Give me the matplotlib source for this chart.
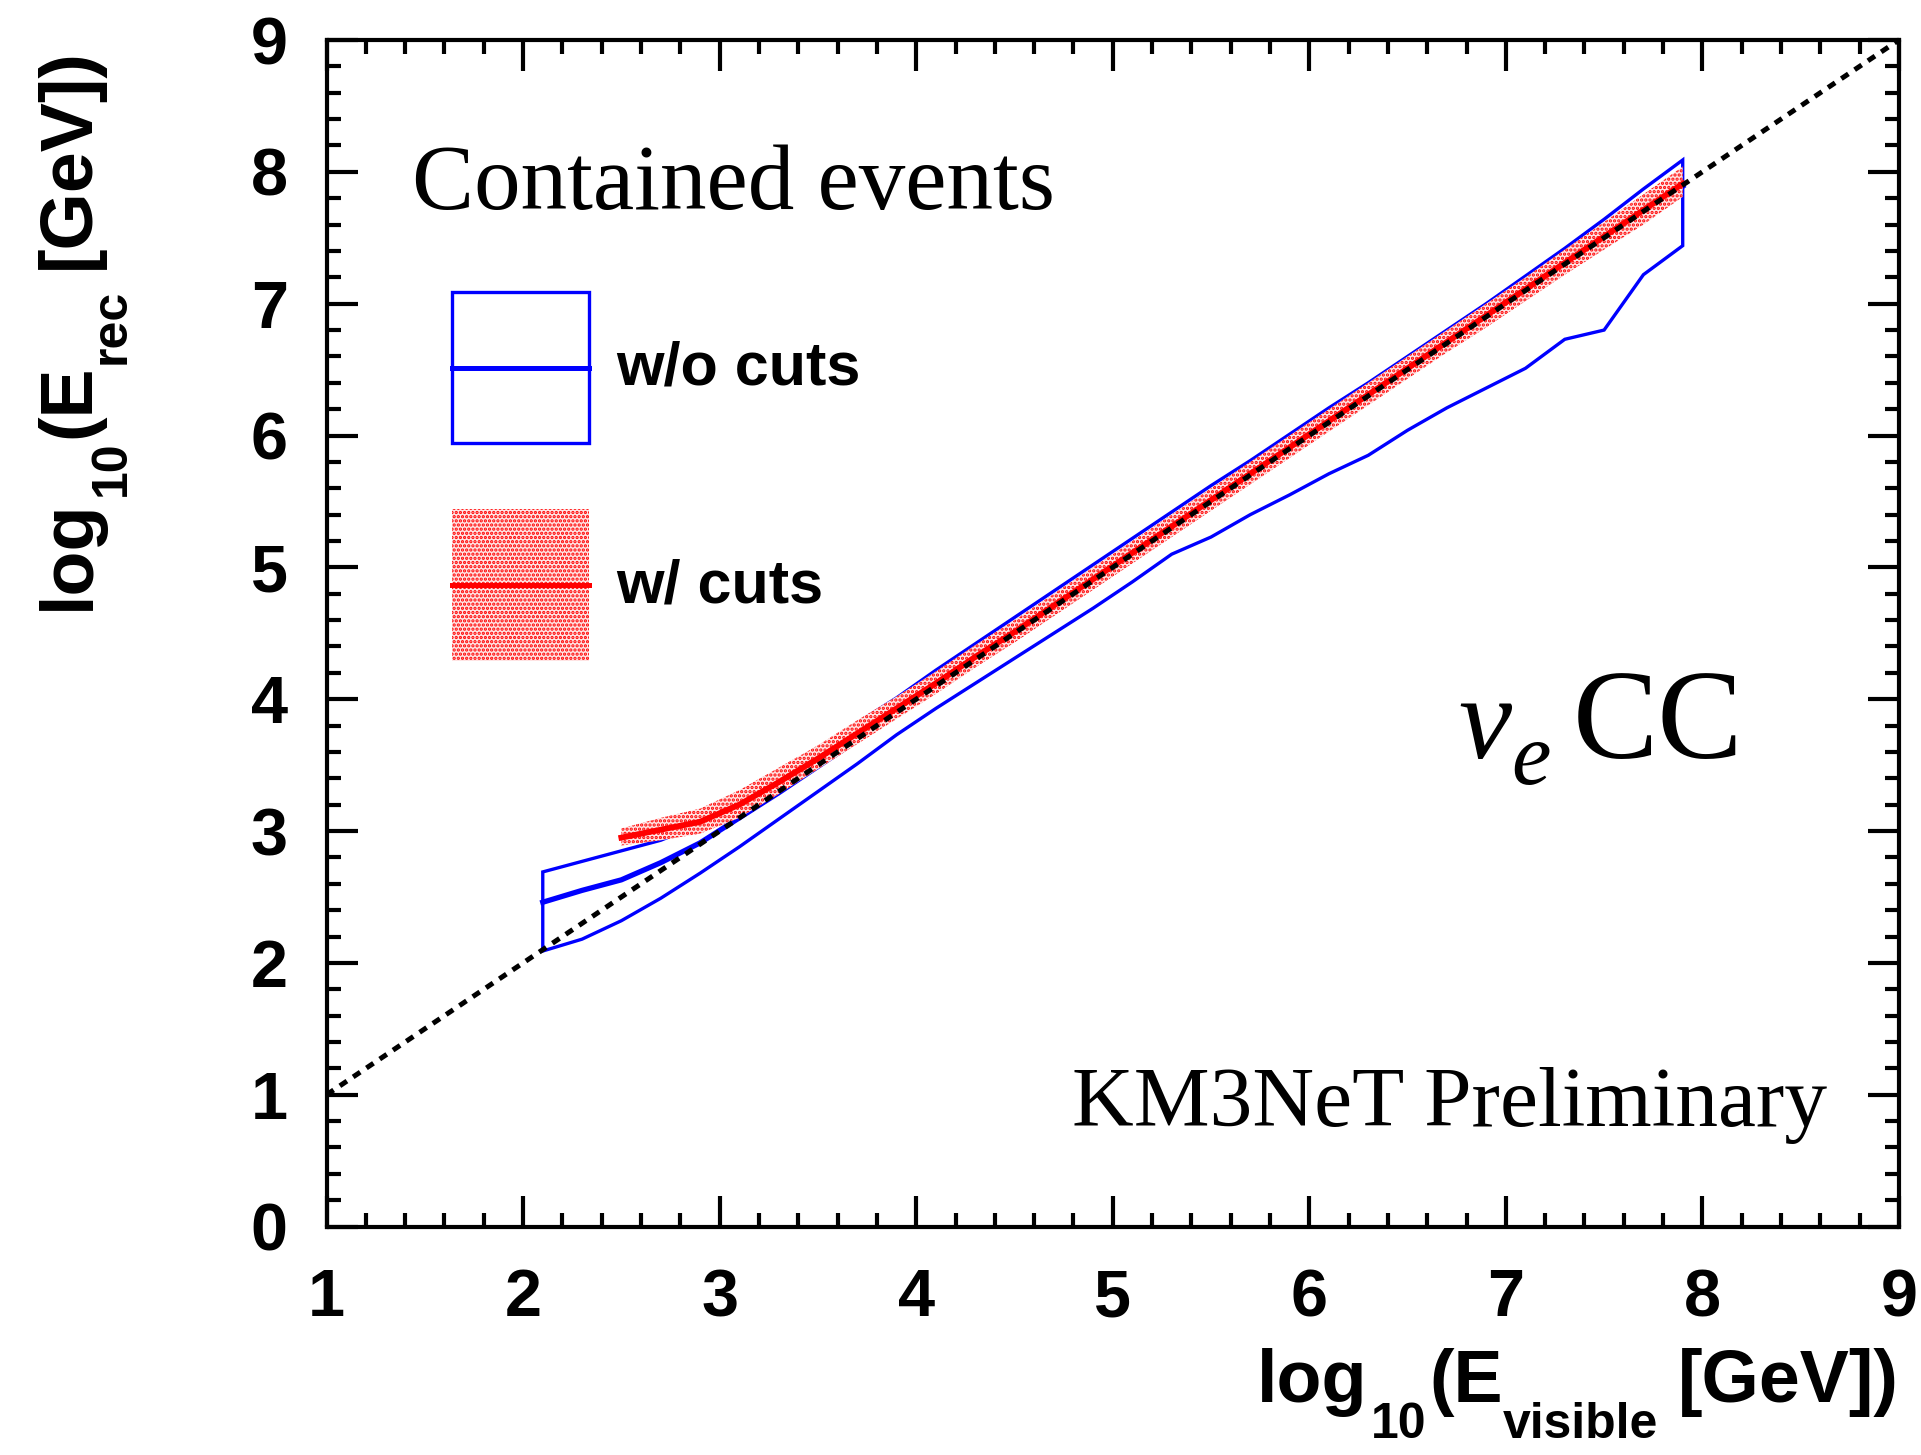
import matplotlib
matplotlib.use("Agg")
import matplotlib.pyplot as plt
from matplotlib.patches import Patch, Rectangle
from matplotlib.lines import Line2D
from matplotlib.legend_handler import HandlerBase
from matplotlib.ticker import AutoMinorLocator

# ---- reconstructed energy vs visible energy, nu_e CC contained events ----
# bin centres of log10(E_visible / GeV)
e_vis = [2.1, 2.3, 2.5, 2.7, 2.9, 3.1, 3.3, 3.5, 3.7, 3.9,
         4.1, 4.3, 4.5, 4.7, 4.9, 5.1, 5.3, 5.5, 5.7, 5.9,
         6.1, 6.3, 6.5, 6.7, 6.9, 7.1, 7.3, 7.5, 7.7, 7.9]

# without cuts: median and band edges of log10(E_rec / GeV)
nocut_median = [2.46, 2.55, 2.63, 2.76, 2.91, 3.10, 3.29, 3.49, 3.69, 3.89,
                4.09, 4.29, 4.49, 4.69, 4.89, 5.09, 5.29, 5.49, 5.69, 5.89,
                6.09, 6.29, 6.49, 6.69, 6.89, 7.09, 7.29, 7.49, 7.69, 7.89]
nocut_upper = [2.69, 2.77, 2.85, 2.93, 3.05, 3.24, 3.43, 3.62, 3.82, 4.01,
               4.22, 4.42, 4.62, 4.82, 5.02, 5.22, 5.42, 5.62, 5.81, 6.01,
               6.21, 6.40, 6.60, 6.80, 7.00, 7.21, 7.42, 7.64, 7.87, 8.09]
nocut_lower = [2.09, 2.18, 2.32, 2.49, 2.68, 2.88, 3.09, 3.30, 3.51, 3.73,
               3.93, 4.12, 4.31, 4.50, 4.69, 4.89, 5.10, 5.23, 5.40, 5.55,
               5.71, 5.85, 6.04, 6.21, 6.36, 6.51, 6.73, 6.80, 7.22, 7.44]

# with cuts
e_vis_cut = [2.5, 2.7, 2.9, 3.1, 3.3, 3.5, 3.7, 3.9,
             4.1, 4.3, 4.5, 4.7, 4.9, 5.1, 5.3, 5.5, 5.7, 5.9,
             6.1, 6.3, 6.5, 6.7, 6.9, 7.1, 7.3, 7.5, 7.7, 7.9]
cut_median = [2.95, 3.01, 3.07, 3.20, 3.37, 3.55, 3.74, 3.93,
              4.12, 4.32, 4.51, 4.71, 4.91, 5.11, 5.31, 5.51, 5.71, 5.91,
              6.11, 6.31, 6.51, 6.71, 6.91, 7.11, 7.31, 7.51, 7.71, 7.91]
cut_upper = [3.02, 3.10, 3.17, 3.31, 3.48, 3.65, 3.84, 4.02,
             4.21, 4.41, 4.60, 4.80, 5.00, 5.20, 5.40, 5.60, 5.80, 6.00,
             6.20, 6.40, 6.60, 6.80, 7.00, 7.20, 7.41, 7.62, 7.83, 8.04]
cut_lower = [2.89, 2.93, 2.98, 3.10, 3.28, 3.47, 3.66, 3.85,
             4.04, 4.24, 4.43, 4.63, 4.83, 5.03, 5.23, 5.43, 5.63, 5.83,
             6.03, 6.23, 6.43, 6.63, 6.82, 7.02, 7.22, 7.41, 7.60, 7.81]

x_ticks = [1, 2, 3, 4, 5, 6, 7, 8, 9]
y_ticks = [0, 1, 2, 3, 4, 5, 6, 7, 8, 9]
series_labels = ["w/o cuts", "w/ cuts"]

BLUE = "#0000ff"
RED = "#ff0000"
PINK = "#ffe4e4"
SANS = "Liberation Sans"
SERIF = "Liberation Serif"

plt.rcParams["hatch.linewidth"] = 1.6

W, H = 1921, 1455
fig = plt.figure(figsize=(W / 100, H / 100), dpi=100)
ax = fig.add_axes([0.170, 0.157, 0.8185, 0.8155])

# band without cuts: hollow outline polygon
ax.fill(e_vis + e_vis[::-1], nocut_upper + nocut_lower[::-1],
        facecolor="none", edgecolor=BLUE, linewidth=2.4, zorder=2)
ax.plot(e_vis, nocut_median, color=BLUE, linewidth=3.8, zorder=3)

# band with cuts: dotted red fill
ax.fill_between(e_vis_cut, cut_lower, cut_upper, facecolor=PINK,
                edgecolor=RED, hatch="....", linewidth=0, zorder=4)
ax.plot(e_vis_cut, cut_median, color=RED, linewidth=4.2, zorder=5)

# E_rec = E_visible reference
ax.axline((1, 1), (9, 9), color="black", linewidth=3.6,
          dashes=(1.7, 1.5), zorder=6)

ax.set_xlim(1, 9)
ax.set_ylim(0, 9)
ax.set_xticks(x_ticks)
ax.set_yticks(y_ticks)
ax.xaxis.set_minor_locator(AutoMinorLocator(5))
ax.yaxis.set_minor_locator(AutoMinorLocator(5))
ax.tick_params(which="both", direction="in", top=True, right=True,
               width=3, color="black")
ax.tick_params(which="major", length=22)
ax.tick_params(which="minor", length=10)
ax.tick_params(axis="x", which="major", pad=30)
ax.tick_params(axis="y", which="major", pad=28)
for lab in ax.get_xticklabels() + ax.get_yticklabels():
    lab.set_fontfamily(SANS)
    lab.set_fontweight("bold")
    lab.set_fontsize(48)
for sp in ax.spines.values():
    sp.set_linewidth(3)


def compound_text(pieces, anchor, rotation=0, align="right"):
    """Lay out text pieces (string, font kwargs, baseline drop px, gap px)
    one after another along the baseline, in figure pixels."""
    renderer = fig.canvas.get_renderer()
    widths = []
    for s, kw, drop, gap in pieces:
        t = fig.text(0, 0, s, **kw)
        widths.append(t.get_window_extent(renderer).width)
        t.remove()
    total = sum(w + p[3] for w, p in zip(widths, pieces))
    if rotation == 0:
        x0, base = anchor
        pos = x0 - total if align == "right" else x0
    else:
        base, y0 = anchor
        pos = y0 - total if align == "right" else y0
    for (s, kw, drop, gap), w in zip(pieces, widths):
        pos += gap
        if rotation == 0:
            fig.text(pos / W, (base - drop) / H, s, ha="left",
                     va="baseline", **kw)
        else:
            fig.text((base + drop) / W, pos / H, s, rotation=90,
                     rotation_mode="anchor", ha="left", va="baseline", **kw)
        pos += w


main = dict(family=SANS, weight="bold", size=53)
sub = dict(family=SANS, weight="bold", size=36)

# axis titles with lowered subscripts
compound_text([("log", main, 0, 0), ("10", sub, 36, 3), ("(E", main, 0, 3),
               ("visible", sub, 36, 0), ("[GeV])", main, 0, 20)],
              anchor=(1899, H - 1402), rotation=0, align="right")
compound_text([("log", main, 0, 0), ("10", sub, 36, 3), ("(E", main, 0, 3),
               ("rec", sub, 36, 0), ("[GeV])", main, 0, 20)],
              anchor=(89, H - 48), rotation=90, align="right")

# annotations
ax.text(0.0545, 0.858, "Contained events", transform=ax.transAxes,
        fontfamily=SERIF, fontsize=67, va="baseline", ha="left")
ax.text(0.9545, 0.085, "KM3NeT Preliminary", transform=ax.transAxes,
        fontfamily=SERIF, fontsize=61.5, va="baseline", ha="right")
ital = dict(family=SERIF, style="italic", size=86)
compound_text([("\u03bd", ital, 0, 0),
               ("e", dict(family=SERIF, style="italic", size=64), 26, 0),
               ("CC", dict(family=SERIF, size=92), 0, 22)],
              anchor=(1458, H - 758), rotation=0, align="left")


class BandHandler(HandlerBase):
    """Legend key: band rectangle with the median line through its middle."""

    def create_artists(self, legend, orig_handle, xdescent, ydescent,
                       width, height, fontsize, trans):
        band, line = orig_handle
        rect = Rectangle((-xdescent, -ydescent), width, height)
        rect.update_from(band)
        rect.set_transform(trans)
        mid = -ydescent + height / 2
        ln = Line2D([-xdescent, -xdescent + width], [mid, mid])
        ln.update_from(line)
        ln.set_transform(trans)
        return [rect, ln]


h_nocut = (Patch(facecolor="none", edgecolor=BLUE, linewidth=2.4),
           Line2D([], [], color=BLUE, linewidth=3.6))
h_cut = (Patch(facecolor=PINK, edgecolor=RED, hatch="....", linewidth=0),
         Line2D([], [], color=RED, linewidth=3.6))
ax.legend([h_nocut, h_cut], series_labels,
          handler_map={tuple: BandHandler()},
          loc="upper left", bbox_to_anchor=(0.080, 0.788),
          borderaxespad=0, borderpad=0, frameon=False,
          prop={"family": SANS, "weight": "bold", "size": 44},
          handlelength=2.24, handleheight=3.448, handletextpad=0.44,
          labelspacing=1.08)

fig.savefig("out.png", dpi=100, facecolor="white")
